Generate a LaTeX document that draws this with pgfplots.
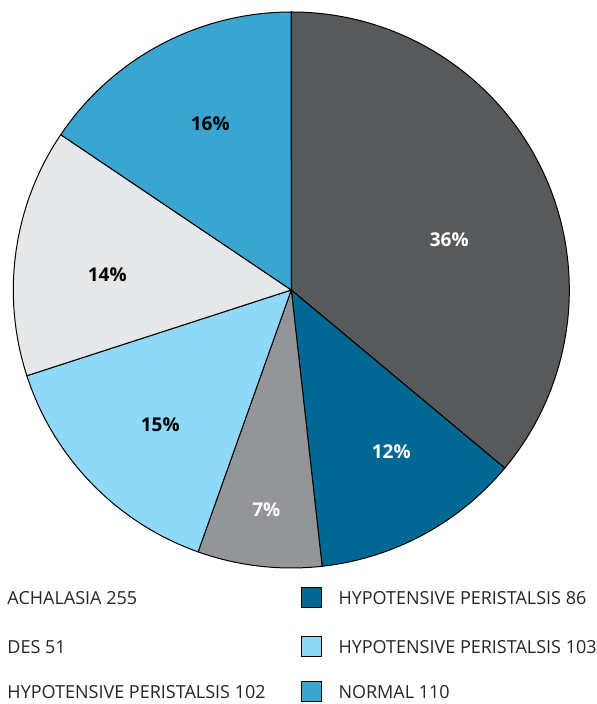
\documentclass[border=0pt]{standalone}
\usepackage{pgfplots}
\pgfplotsset{compat=1.18}
\usepackage{fontspec}
\setmainfont{Open Sans}
\definecolor{cA}{HTML}{58595B}
\definecolor{cB}{HTML}{006892}
\definecolor{cC}{HTML}{939598}
\definecolor{cD}{HTML}{8FD8F8}
\definecolor{cE}{HTML}{E6E7E8}
\definecolor{cF}{HTML}{3AA6CF}
% data: Achalasia, Hypotensive 86, DES, Hypotensive 103, Hypotensive 102, Normal
\def\vA{255}\def\vB{86}\def\vC{51}\def\vD{103}\def\vE{102}\def\vF{110}
\pgfmathsetmacro\tot{\vA+\vB+\vC+\vD+\vE+\vF}
\pgfmathsetmacro\aA{90}
\pgfmathsetmacro\aB{\aA-360*(\vA/\tot)}
\pgfmathsetmacro\aC{\aB-360*(\vB/\tot)}
\pgfmathsetmacro\aD{\aC-360*(\vC/\tot)}
\pgfmathsetmacro\aE{\aD-360*(\vD/\tot)}
\pgfmathsetmacro\aF{\aE-360*(\vE/\tot)}
\pgfmathsetmacro\aG{\aF-360*(\vF/\tot)}
\newcommand\slice[3]{\fill[#3,draw=black,line width=1pt] (axis cs:0,0) -- (axis cs:{278*cos(#1)},{278*sin(#1)}) arc[start angle=#1,end angle=#2,radius=278pt] -- cycle;}
\begin{document}
\begin{tikzpicture}
\begin{axis}[width=595pt,height=704pt,scale only axis,xmin=-291,xmax=304,ymin=-414,ymax=290,hide axis,clip=false]
\path (axis cs:-291,-414) rectangle (axis cs:304,290);
\slice{\aA}{\aB}{cA}
\slice{\aB}{\aC}{cB}
\slice{\aC}{\aD}{cC}
\slice{\aD}{\aE}{cD}
\slice{\aE}{\aF}{cE}
\slice{\aF}{\aG}{cF}
\begin{scope}[every node/.style={font=\bfseries\fontsize{19}{22}\selectfont}]
\node[white] at (axis cs:158,50) {36\%};
\node[white] at (axis cs:100,-162) {12\%};
\node[white] at (axis cs:-25,-220) {7\%};
\node[black] at (axis cs:-131,-135) {15\%};
\node[black] at (axis cs:-184,15) {14\%};
\node[black] at (axis cs:-81,166) {16\%};
\end{scope}
\begin{scope}[every node/.style={anchor=west,inner sep=0pt,font=\fontsize{18}{21}\selectfont,text=black!85}]
\node at (axis cs:-284,-308) {ACHALASIA 255};
\node at (axis cs:-284,-357) {DES 51};
\node at (axis cs:-284,-402) {HYPOTENSIVE PERISTALSIS 102};
\node at (axis cs:47,-308) {HYPOTENSIVE PERISTALSIS 86};
\node at (axis cs:47,-357) {HYPOTENSIVE PERISTALSIS 103};
\node at (axis cs:47,-402) {NORMAL 110};
\end{scope}
\draw[fill=cB,line width=1pt] (axis cs:10,-298) rectangle (axis cs:30,-318);
\draw[fill=cD,line width=1pt] (axis cs:10,-347) rectangle (axis cs:30,-367);
\draw[fill=cF,line width=1pt] (axis cs:10,-392) rectangle (axis cs:30,-412);
\end{axis}
\end{tikzpicture}
\end{document}
